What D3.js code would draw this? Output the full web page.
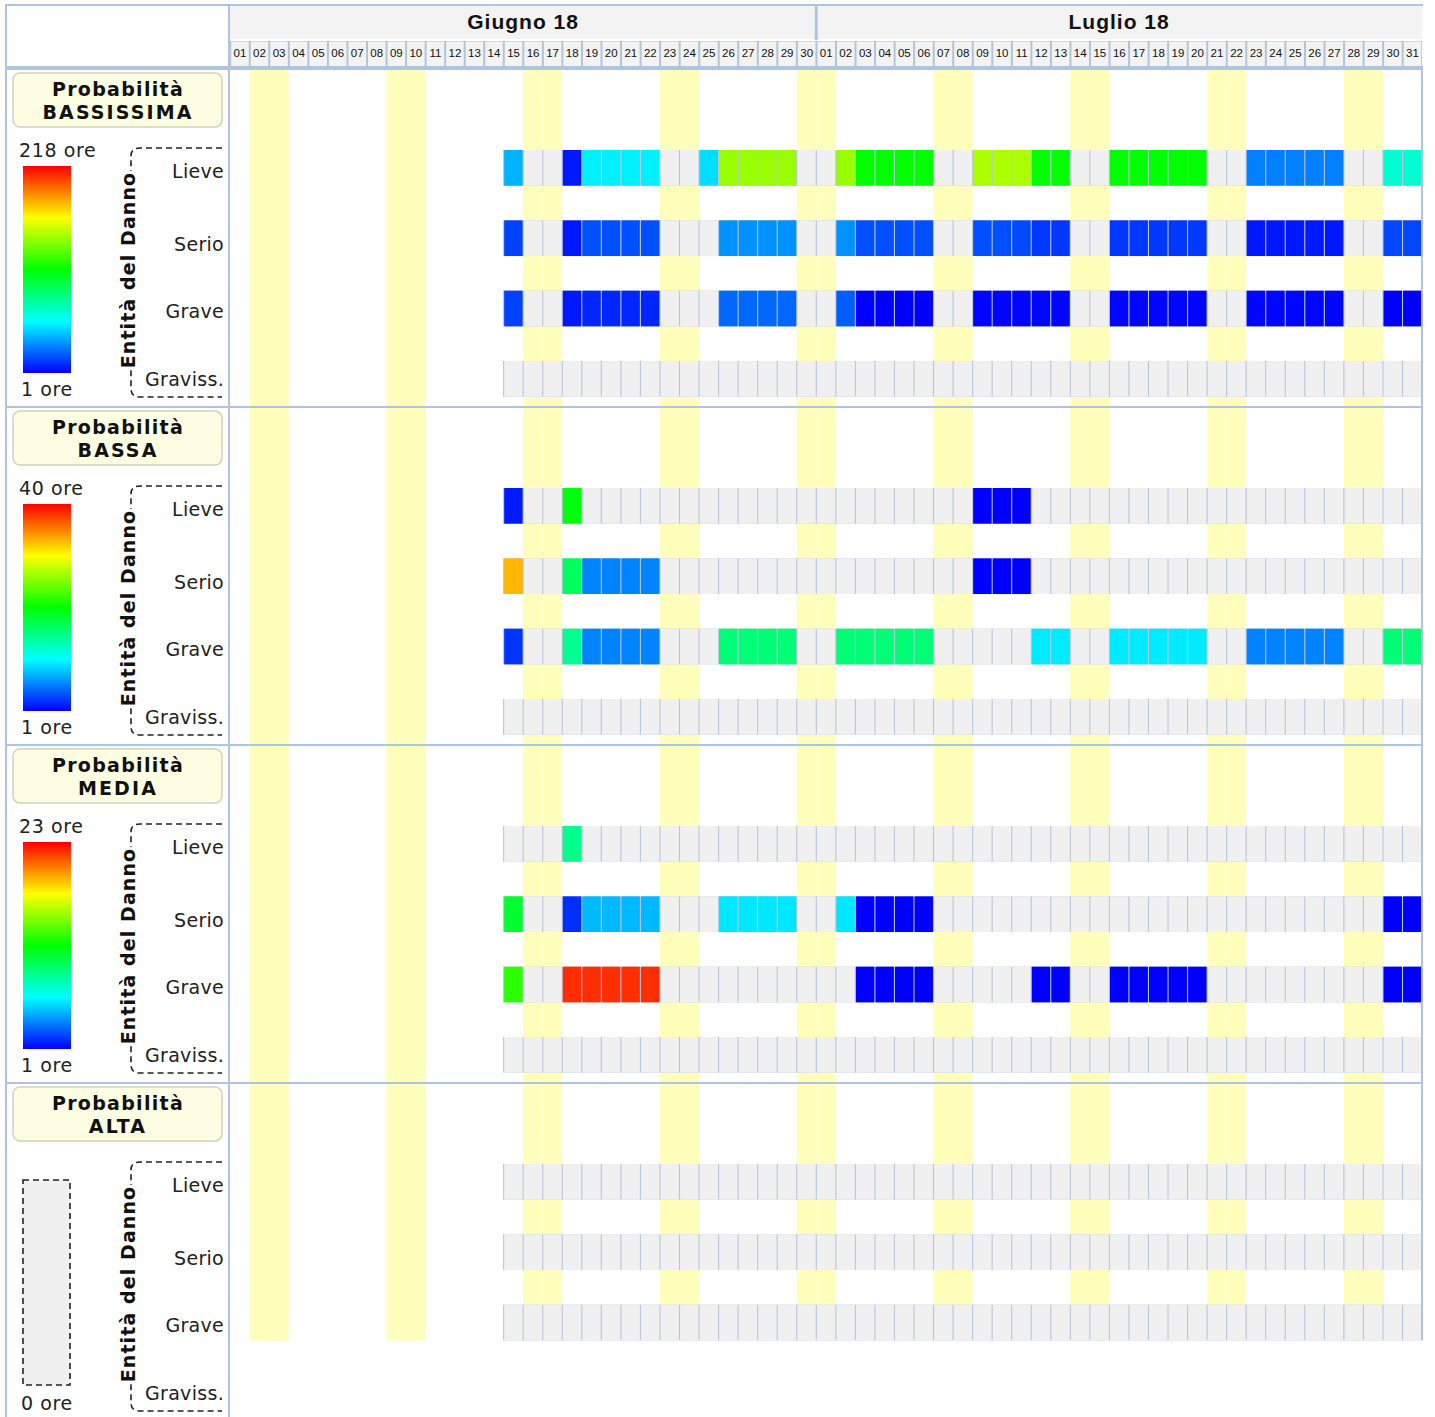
<!DOCTYPE html>
<html>
<head>
<meta charset="utf-8">
<script src="https://cdn.jsdelivr.net/npm/d3@7"></script>
<style>
body { margin: 0; background: #fff; }
</style>
</head>
<body>
<div id="chart"></div>
<script>
var _ = null;

// header
var months = ["Giugno 18", "Luglio 18"];
var firstDay = new Date(2018, 5, 1),
    endDay = new Date(2018, 7, 1),
    dataStart = new Date(2018, 5, 15);

// left panel
var sectionNames = ["BASSISSIMA", "BASSA", "MEDIA", "ALTA"];
var maxOre = [218, 40, 23, 0];
var minOre = [1, 1, 1, 0];
var levels = ["Lieve", "Serio", "Grave", "Graviss."];

// ore per giorno, 15 giugno -> 31 luglio (null = nessun dato)
var bassissima = [
    [39,_,_,6,52,52,52,52,_,_,48,142,142,142,142,_,
     _,142,110,110,110,110,_,_,146,146,146,110,110,_,_,110,110,110,110,110,_,_,28,28,28,28,28,_,_,65,65],
    [15,_,_,6,18,18,18,18,_,_,_,32,32,32,32,_,
     _,32,18,18,18,18,_,_,18,18,17,13,13,_,_,13,13,13,13,13,_,_,6,6,6,6,6,_,_,16,16],
    [15,_,_,6,9,9,9,9,_,_,_,23,23,23,23,_,
     _,21,1,1,1,1,_,_,2,2,2,2,2,_,_,2,2,2,2,2,_,_,2,2,2,2,2,_,_,1,1],
    []
];
var bassa = [
    [2,_,_,20,_,_,_,_,_,_,_,_,_,_,_,_,
     _,_,_,_,_,_,_,_,1,1,1],
    [33,_,_,17,6,6,6,6,_,_,_,_,_,_,_,_,
     _,_,_,_,_,_,_,_,1,1,1],
    [3,_,_,15,6,6,6,6,_,_,_,16,16,16,16,_,
     _,16,16,16,16,16,_,_,_,_,_,10,10,_,_,10,10,10,10,10,_,_,6,6,6,6,6,_,_,16,16],
    []
];
var media = [
    [_,_,_,9],
    [11,_,_,2,5,5,5,5,_,_,_,6,6,6,6,_,
     _,6,1,1,1,1,_,_,_,_,_,_,_,_,_,_,_,_,_,_,_,_,_,_,_,_,_,_,_,1,1],
    [13,_,_,22,22,22,22,22,_,_,_,_,_,_,_,_,
     _,_,1,1,1,1,_,_,_,_,_,1,1,_,_,1,1,1,1,1,_,_,_,_,_,_,_,_,_,1,1],
    []
];
var alta = [[], [], []];
var sectionRows = [bassissima, bassa, media, alta];

var draw_chart = {
    view: 0,
    x: 0,
    days: 0,
    gridLeft: 230,
    gridRight: 1422,
    sectionTop: 70,
    sectionStep: 338,
    line: "#b0c4de",
    initialize: function() {
        var self = this;
        self.view = d3.select("#chart").append("svg")
            .attr("width", 1435)
            .attr("height", 1417);
        self.days = d3.timeDay.range(firstDay, endDay);
        self.x = d3.scaleBand()
            .domain(self.days)
            .range([self.gridLeft, self.gridRight]);
        var grad = self.view.append("defs").append("linearGradient")
            .attr("id", "rainbow")
            .attr("x1", 0).attr("y1", 0).attr("x2", 0).attr("y2", 1);
        grad.selectAll("stop")
            .data([0, 0.25, 0.5, 0.75, 1])
            .enter()
            .append("stop")
            .attr("offset", function(d) { return d; })
            .attr("stop-color", function(d) { return d3.hsl(240 * d, 1, 0.5); });
    },
    draw_header: function() {
        var self = this;
        var x = self.x, bw = x.bandwidth();
        var g = self.view.append("g");
        var monthStarts = [new Date(2018, 5, 1), new Date(2018, 6, 1)];
        var monthEnds = [new Date(2018, 5, 30), new Date(2018, 6, 31)];

        g.selectAll(".month")
            .data(months)
            .enter()
            .append("rect")
            .attr("x", function(d, i) { return x(monthStarts[i]); })
            .attr("y", 6)
            .attr("width", function(d, i) { return x(monthEnds[i]) + bw - x(monthStarts[i]); })
            .attr("height", 33)
            .attr("fill", "#f3f3f3");
        g.selectAll(".monthText")
            .data(months)
            .enter()
            .append("text")
            .attr("x", function(d, i) { return (x(monthStarts[i]) + x(monthEnds[i]) + bw) / 2; })
            .attr("y", 29)
            .attr("text-anchor", "middle")
            .attr("font-family", "Liberation Sans, Arial, sans-serif")
            .attr("font-weight", "bold")
            .attr("font-size", 21)
            .attr("letter-spacing", 1)
            .attr("fill", "#111")
            .text(function(d) { return d; });
        g.append("rect")
            .attr("x", x(monthStarts[1]) - 1.5)
            .attr("y", 4)
            .attr("width", 3)
            .attr("height", 36)
            .attr("fill", self.line);

        // day row
        g.append("rect")
            .attr("x", self.gridLeft)
            .attr("y", 41)
            .attr("width", self.gridRight - self.gridLeft)
            .attr("height", 26)
            .attr("fill", self.line);
        g.selectAll(".day")
            .data(self.days)
            .enter()
            .append("rect")
            .attr("x", function(d) { return x(d) + 1.2; })
            .attr("y", 41.5)
            .attr("width", bw - 2)
            .attr("height", 25)
            .attr("fill", "#f3f3f3");
        g.selectAll(".dayText")
            .data(self.days)
            .enter()
            .append("text")
            .attr("x", function(d) { return x(d) + bw / 2 + 0.2; })
            .attr("y", 57)
            .attr("text-anchor", "middle")
            .attr("font-family", "Liberation Sans, Arial, sans-serif")
            .attr("font-size", 11.5)
            .attr("fill", "#111")
            .text(d3.timeFormat("%d"));

        // frame lines
        g.append("rect").attr("x", 5).attr("y", 4).attr("width", 1418).attr("height", 2).attr("fill", self.line);
        g.append("rect").attr("x", 5).attr("y", 4).attr("width", 2).attr("height", 1413).attr("fill", self.line);
        g.append("rect").attr("x", 5).attr("y", 66).attr("width", 1418).attr("height", 4).attr("fill", self.line);
    },
    draw_section: function(i) {
        var self = this;
        var x = self.x, bw = x.bandwidth();
        var T = self.sectionTop + i * self.sectionStep;
        var rows = sectionRows[i];
        var g = self.view.append("g");

        var y = d3.scaleBand()
            .domain(levels)
            .range([T + 80, T + 326.7])
            .paddingInner(0.4924)
            .paddingOuter(0);
        var gridBottom = rows.length < levels.length ? y(levels[rows.length - 1]) + y.bandwidth() : T + 336.3;

        if (i > 0) {
            g.append("rect")
                .attr("x", 5).attr("y", T - 2)
                .attr("width", 1418).attr("height", 2)
                .attr("fill", self.line);
        }

        // weekends
        g.selectAll(".weekend")
            .data(self.days.filter(function(d) { return d.getDay() == 0 || d.getDay() == 6; }))
            .enter()
            .append("rect")
            .attr("x", function(d) { return x(d); })
            .attr("y", T)
            .attr("width", bw)
            .attr("height", gridBottom - T)
            .attr("fill", "#ffffbb");

        var hue = d3.scaleLinear()
            .domain([minOre[i], Math.max(maxOre[i], minOre[i] + 1)])
            .range([240, 0])
            .clamp(true);
        var dataDays = self.days.filter(function(d) { return d >= dataStart; });

        rows.forEach(function(row, r) {
            var ry = y(levels[r]);
            g.append("rect")
                .attr("x", x(dataStart) - 0.5)
                .attr("y", ry)
                .attr("width", self.gridRight - x(dataStart) + 0.5)
                .attr("height", y.bandwidth())
                .attr("fill", "#b8c6dc");
            g.append("g")
                .selectAll("rect")
                .data(dataDays.map(function(d, j) { return { d: d, v: row[j] == undefined ? null : row[j] }; }))
                .enter()
                .append("rect")
                .attr("x", function(c) { return x(c.d) + 0.6; })
                .attr("y", ry)
                .attr("width", bw - 1.1)
                .attr("height", y.bandwidth())
                .attr("fill", function(c) {
                    if (c.v == null) return "#f0f0f0";
                    return d3.hsl(hue(c.v), 1, 0.5);
                });
        });

        // right border
        g.append("rect")
            .attr("x", self.gridRight - 1)
            .attr("y", T - 2)
            .attr("width", 2)
            .attr("height", gridBottom - T + 2)
            .attr("fill", self.line);

        // left panel
        g.append("rect")
            .attr("x", 13).attr("y", T + 3)
            .attr("width", 209).attr("height", 54)
            .attr("rx", 7)
            .attr("fill", "#fdfde1")
            .attr("stroke", "#d2d2be")
            .attr("stroke-width", 1.5);
        var titleSpacing = [1.3, 2.1];
        g.selectAll(".title")
            .data(["Probabilità", sectionNames[i]])
            .enter()
            .append("text")
            .attr("x", 118)
            .attr("y", function(d, k) { return T + 26 + k * 23; })
            .attr("text-anchor", "middle")
            .attr("font-family", "DejaVu Sans, Verdana, sans-serif")
            .attr("font-weight", "bold")
            .attr("font-size", 19)
            .attr("letter-spacing", function(d, k) { return titleSpacing[k]; })
            .attr("fill", "#111")
            .text(function(d) { return d; });

        var oreFont = function(sel) {
            sel.attr("font-family", "DejaVu Sans, Verdana, sans-serif")
                .attr("font-size", 19)
                .attr("letter-spacing", 0.6)
                .attr("fill", "#222");
        };
        if (maxOre[i] > 0) {
            g.append("rect")
                .attr("x", 23).attr("y", T + 96)
                .attr("width", 48).attr("height", 207)
                .attr("fill", "url(#rainbow)");
            g.append("text")
                .attr("x", 19).attr("y", T + 87)
                .call(oreFont)
                .text(maxOre[i] + " ore");
        } else {
            g.append("rect")
                .attr("x", 23).attr("y", T + 96)
                .attr("width", 47).attr("height", 205)
                .attr("fill", "#f0f0f0")
                .attr("stroke", "#222")
                .attr("stroke-width", 1.6)
                .attr("stroke-dasharray", "6,4");
        }
        g.append("text")
            .attr("x", 21).attr("y", T + 326)
            .call(oreFont)
            .text(minOre[i] + " ore");

        // bracket
        g.append("path")
            .attr("d", "M222," + (T + 78) + "H140Q131," + (T + 78) + " 131," + (T + 86) +
                "V" + (T + 319) + "Q131," + (T + 327) + " 140," + (T + 327) + "H222")
            .attr("fill", "none")
            .attr("stroke", "#222")
            .attr("stroke-width", 1.6)
            .attr("stroke-dasharray", "6,4");
        g.append("rect")
            .attr("x", 116).attr("y", T + 101)
            .attr("width", 24).attr("height", 198)
            .attr("fill", "#fff");
        g.append("text")
            .attr("transform", "translate(135," + (T + 200) + ") rotate(-90)")
            .attr("text-anchor", "middle")
            .attr("font-family", "DejaVu Sans, Verdana, sans-serif")
            .attr("font-weight", "bold")
            .attr("font-size", 19)
            .attr("letter-spacing", 1.1)
            .attr("fill", "#111")
            .text("Entità del Danno");

        var labelY = [108, 181, 248, 316];
        g.selectAll(".level")
            .data(levels)
            .enter()
            .append("text")
            .attr("x", 224)
            .attr("y", function(d, k) { return T + labelY[k]; })
            .attr("text-anchor", "end")
            .call(oreFont)
            .attr("letter-spacing", 0.3)
            .text(function(d) { return d; });
    },
    draw: function() {
        var self = this;
        self.initialize();
        self.draw_header();
        for (var i = 0; i < sectionRows.length; i++) self.draw_section(i);
        // panel divider
        self.view.append("rect")
            .attr("x", 228).attr("y", 4)
            .attr("width", 2).attr("height", 1413)
            .attr("fill", self.line);
    }
};

draw_chart.draw();
</script>
</body>
</html>
